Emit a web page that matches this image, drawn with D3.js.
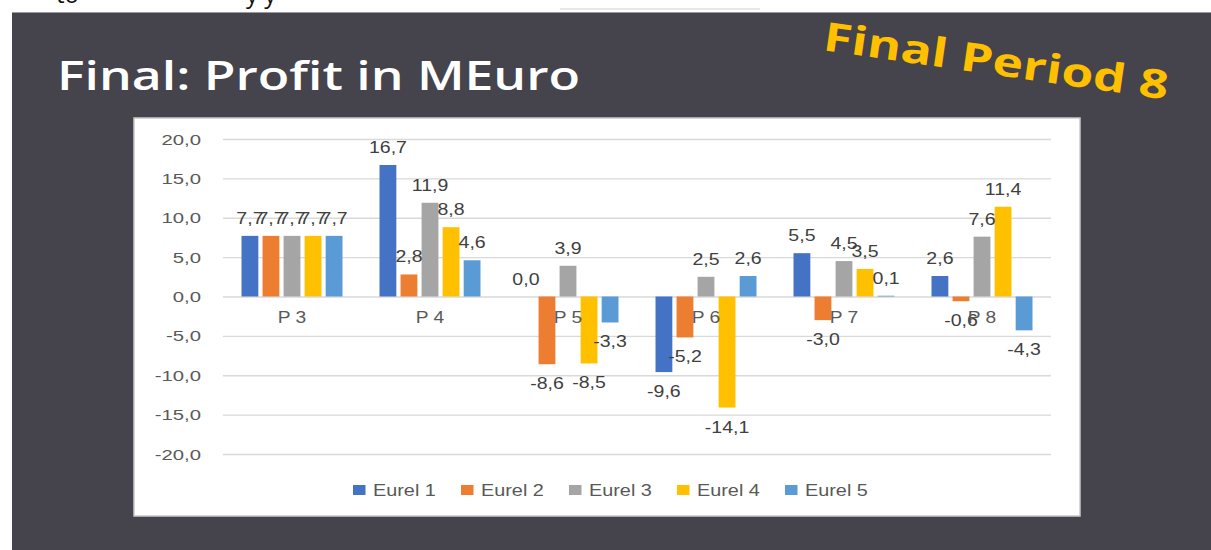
<!DOCTYPE html>
<html>
<head>
<meta charset="utf-8">
<script src="https://cdn.jsdelivr.net/npm/d3@7"></script>
<style>
  html, body { margin: 0; padding: 0; background: #fff; }
  svg { display: block; }
</style>
</head>
<body>
<div id="chart"></div>
<script>
// data
const periods = ["P 3", "P 4", "P 5", "P 6", "P 7", "P 8"];
const seriesNames = ["Eurel 1", "Eurel 2", "Eurel 3", "Eurel 4", "Eurel 5"];
const eurel1 = [7.7, 16.7, 0.0, -9.6, 5.5, 2.6];
const eurel2 = [7.7, 2.8, -8.6, -5.2, -3.0, -0.6];
const eurel3 = [7.7, 11.9, 3.9, 2.5, 4.5, 7.6];
const eurel4 = [7.7, 8.8, -8.5, -14.1, 3.5, 11.4];
const eurel5 = [7.7, 4.6, -3.3, 2.6, 0.1, -4.3];
const yTicks = [-20, -15, -10, -5, 0, 5, 10, 15, 20];
const colors = ["#4472C4", "#ED7D31", "#A5A5A5", "#FFC000", "#5B9BD5"];

const seriesValues = [eurel1, eurel2, eurel3, eurel4, eurel5];
const rows = [];
periods.forEach((p, i) => {
  seriesNames.forEach((s, j) => rows.push({ period: p, series: s, value: seriesValues[j][i] }));
});

const W = 1211, H = 550;
const FONT = "'Liberation Sans', Arial, sans-serif";
// excel style: decimal comma, plain hyphen for minus
const commaFmt = v => d3.format(".1f")(v).replace(".", ",").replace("\u2212", "-");

const svg = d3.select("#chart").append("svg")
  .attr("width", W).attr("height", H);

// slide background
svg.append("rect").attr("x", 0).attr("y", 0).attr("width", W).attr("height", H).attr("fill", "#fff");
// cut-off text from the page above the slide
svg.append("text").attr("x", 56).attr("y", 3).attr("font-family", "'Open Sans', sans-serif")
  .attr("font-size", 24).attr("fill", "#111").text("to");
svg.append("text").attr("x", 246).attr("y", 3).attr("font-family", "'Open Sans', sans-serif")
  .attr("font-size", 24).attr("fill", "#111").text("y y");
svg.append("line").attr("x1", 560).attr("x2", 760).attr("y1", 9).attr("y2", 9)
  .attr("stroke", "#d0d0d0").attr("stroke-width", 1);

svg.append("rect").attr("x", 12).attr("y", 12).attr("width", W - 12).attr("height", H - 12)
  .attr("fill", "#45434c");
svg.append("line").attr("x1", 12).attr("x2", W).attr("y1", 12.5).attr("y2", 12.5)
  .attr("stroke", "#9a9a9e").attr("stroke-width", 1);

// title
svg.append("text")
  .attr("x", 57).attr("y", 90)
  .attr("font-family", "'Open Sans', sans-serif")
  .attr("font-weight", 600)
  .attr("font-size", 39)
  .attr("fill", "#fff")
  .attr("textLength", 523)
  .attr("lengthAdjust", "spacingAndGlyphs")
  .text("Final: Profit in MEuro");

// tilted stamp
svg.append("text")
  .attr("transform", "translate(822,50) rotate(8.2)")
  .attr("font-family", "'Open Sans', sans-serif")
  .attr("font-weight", 700)
  .attr("font-size", 40)
  .attr("fill", "#FFC000")
  .attr("textLength", 348)
  .attr("lengthAdjust", "spacingAndGlyphs")
  .text("Final Period 8");

// chart panel
svg.append("rect")
  .attr("x", 134).attr("y", 118).attr("width", 946).attr("height", 398)
  .attr("fill", "#fff").attr("stroke", "#c9c9c9").attr("stroke-width", 1.5);

const plot = { l: 223, r: 1051, t: 139, b: 454 };

const x0 = d3.scaleBand().domain(periods).range([plot.l, plot.r]).padding(0);
const x1 = d3.scaleBand().domain(seriesNames)
  .range([18.5, x0.bandwidth() - 18.5]).paddingInner(0.2).paddingOuter(0);
const y = d3.scaleLinear().domain([-20, 20]).range([plot.b, plot.t]);

// gridlines + y labels
const yAxis = svg.append("g")
  .attr("transform", `translate(${plot.l},0)`)
  .call(d3.axisLeft(y).tickValues(yTicks).tickSize(-(plot.r - plot.l)).tickFormat(commaFmt));
yAxis.select(".domain").remove();
yAxis.selectAll(".tick line").attr("stroke", "#d9d9d9").attr("stroke-width", 1.3);
yAxis.selectAll(".tick text")
  .attr("x", null).attr("dy", null)
  .attr("transform", "translate(-22,5) scale(1.4,1)")
  .attr("text-anchor", "end")
  .attr("font-family", FONT).attr("font-size", 14.5).attr("fill", "#595959");

// bars
const groups = svg.append("g").selectAll("g")
  .data(periods).join("g")
  .attr("transform", p => `translate(${x0(p)},0)`);

groups.selectAll("rect")
  .data(p => rows.filter(r => r.period === p))
  .join("rect")
  .attr("x", d => x1(d.series))
  .attr("width", x1.bandwidth())
  .attr("y", d => y(Math.max(0, d.value)))
  .attr("height", d => Math.abs(y(d.value) - y(0)))
  .attr("fill", (d, i) => colors[i]);

// category labels sit just under the zero line
const xAxis = svg.append("g")
  .attr("transform", `translate(0,${y(0)})`)
  .call(d3.axisBottom(x0).tickSize(0));
xAxis.select(".domain").remove();
xAxis.selectAll(".tick text")
  .attr("y", null).attr("dy", null)
  .attr("transform", "translate(0,26) scale(1.2,1)")
  .attr("font-family", FONT).attr("font-size", 16).attr("fill", "#595959");

// value labels
groups.selectAll("text.val")
  .data(p => rows.filter(r => r.period === p))
  .join("text")
  .attr("class", "val")
  .attr("transform", d => {
    const cx = x1(d.series) + x1.bandwidth() / 2;
    const cy = d.value >= 0 ? y(d.value) - 12 : y(d.value) + 25;
    return `translate(${cx},${cy}) scale(1.22,1)`;
  })
  .attr("text-anchor", "middle")
  .attr("font-family", FONT).attr("font-size", 16).attr("fill", "#404040")
  .text(d => commaFmt(d.value));

// legend
const legend = svg.append("g").attr("transform", "translate(353,485)");
const item = legend.selectAll("g").data(seriesNames).join("g")
  .attr("transform", (d, i) => `translate(${i * 108},0)`);
item.append("rect").attr("width", 12.5).attr("height", 10).attr("fill", (d, i) => colors[i]);
item.append("text")
  .attr("transform", "translate(20,10.5) scale(1.24,1)")
  .attr("font-family", FONT).attr("font-size", 16).attr("fill", "#595959")
  .text(d => d);
</script>
</body>
</html>
